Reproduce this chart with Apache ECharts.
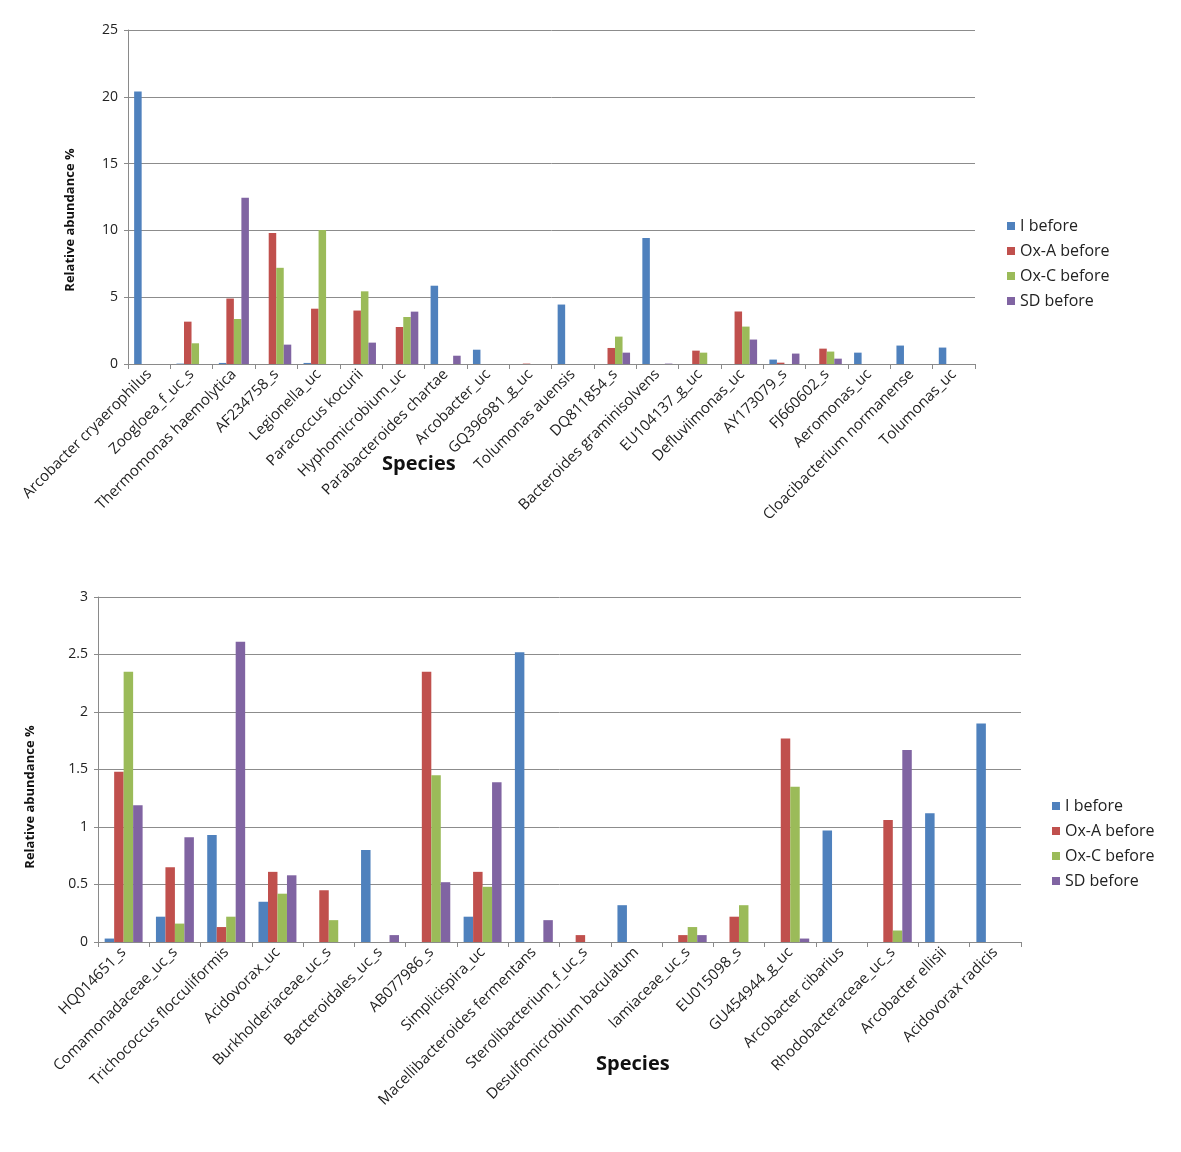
<!DOCTYPE html>
<html><head><meta charset="utf-8">
<script src="https://cdn.jsdelivr.net/npm/echarts@6/dist/echarts.min.js"></script>
<style>html,body{margin:0;padding:0;background:#fff}#c{width:1181px;height:1152px}</style>
</head><body><div id="c"></div>
<script>
const seriesNames = ['I before', 'Ox-A before', 'Ox-C before', 'SD before'];
const colors = ['#4F81BD', '#C0504D', '#9BBB59', '#8064A2'];

const topCategories = ['Arcobacter cryaerophilus','Zoogloea_f_uc_s','Thermomonas haemolytica','AF234758_s','Legionella_uc','Paracoccus kocurii','Hyphomicrobium_uc','Parabacteroides chartae','Arcobacter_uc','GQ396981_g_uc','Tolumonas auensis','DQ811854_s','Bacteroides graminisolvens','EU104137_g_uc','Defluviimonas_uc','AY173079_s','FJ660602_s','Aeromonas_uc','Cloacibacterium normanense','Tolumonas_uc'];
const topI    = [20.4, 0.03, 0.08, 0, 0.08, 0, 0, 5.86, 1.07, 0, 4.45, 0, 9.43, 0, 0, 0.33, 0, 0.85, 1.38, 1.23];
const topOxA  = [0, 3.17, 4.9, 9.8, 4.14, 4.0, 2.77, 0, 0, 0.03, 0, 1.2, 0, 1.0, 3.93, 0.1, 1.15, 0, 0, 0];
const topOxC  = [0, 1.55, 3.37, 7.2, 10.03, 5.44, 3.52, 0, 0, 0, 0, 2.05, 0, 0.85, 2.8, 0, 0.93, 0, 0, 0];
const topSD   = [0, 0, 12.45, 1.45, 0, 1.6, 3.92, 0.62, 0, 0, 0, 0.85, 0.03, 0, 1.83, 0.78, 0.4, 0, 0, 0];
const topTicks = [0, 5, 10, 15, 20, 25];

const botCategories = ['HQ014651_s','Comamonadaceae_uc_s','Trichococcus flocculiformis','Acidovorax_uc','Burkholderiaceae_uc_s','Bacteroidales_uc_s','AB077986_s','Simplicispira_uc','Macellibacteroides fermentans','Sterolibacterium_f_uc_s','Desulfomicrobium baculatum','lamiaceae_uc_s','EU015098_s','GU454944_g_uc','Arcobacter cibarius','Rhodobacteraceae_uc_s','Arcobacter ellisii','Acidovorax radicis'];
const botI    = [0.03, 0.22, 0.93, 0.35, 0, 0.80, 0, 0.22, 2.52, 0, 0.32, 0, 0, 0, 0.97, 0, 1.12, 1.90];
const botOxA  = [1.48, 0.65, 0.13, 0.61, 0.45, 0, 2.35, 0.61, 0, 0.06, 0, 0.06, 0.22, 1.77, 0, 1.06, 0, 0];
const botOxC  = [2.35, 0.16, 0.22, 0.42, 0.19, 0, 1.45, 0.48, 0, 0, 0, 0.13, 0.32, 1.35, 0, 0.10, 0, 0];
const botSD   = [1.19, 0.91, 2.61, 0.58, 0, 0.06, 0.52, 1.39, 0.19, 0, 0, 0.06, 0, 0.03, 0, 1.67, 0, 0];
const botTicks = [0, 0.5, 1, 1.5, 2, 2.5, 3];

const FONT = '"Open Sans", "DejaVu Sans", sans-serif';
const chart = echarts.init(document.getElementById('c'), null, {renderer: 'canvas'});

function xAxisCfg(cats, gridIndex) {
  return {
    type: 'category', data: cats, gridIndex: gridIndex,
    axisLine: {lineStyle: {color: '#8a8a8a', width: 1}},
    axisTick: {show: true, length: 5, lineStyle: {color: '#8a8a8a'}},
    axisLabel: {rotate: 45, interval: 0, color: '#222', fontSize: 15, fontFamily: FONT, margin: 8},
    splitLine: {show: false}
  };
}
function yAxisCfg(ticks, gridIndex) {
  return {
    type: 'value', gridIndex: gridIndex, min: ticks[0], max: ticks[ticks.length - 1],
    interval: ticks[1] - ticks[0],
    axisLine: {show: true, lineStyle: {color: '#8a8a8a'}},
    axisTick: {show: true, length: 4, lineStyle: {color: '#8a8a8a'}},
    axisLabel: {color: '#222', fontSize: 14, fontFamily: FONT, margin: 10},
    splitLine: {show: true, lineStyle: {color: '#8c8c8c', width: 1}}
  };
}
const series = [];
const topData = [topI, topOxA, topOxC, topSD];
const botData = [botI, botOxA, botOxC, botSD];
for (let i = 0; i < 4; i++) {
  series.push({type: 'bar', name: seriesNames[i], xAxisIndex: 0, yAxisIndex: 0, data: topData[i],
    itemStyle: {color: colors[i]}, barGap: '0%', barCategoryGap: '29%', animation: false});
}
for (let i = 0; i < 4; i++) {
  series.push({type: 'bar', name: seriesNames[i], xAxisIndex: 1, yAxisIndex: 1, data: botData[i],
    itemStyle: {color: colors[i]}, barGap: '0%', barCategoryGap: '26%', animation: false});
}
const legendBase = {
  orient: 'vertical', icon: 'rect', itemWidth: 8, itemHeight: 8, itemGap: 9,
  textStyle: {fontSize: 16, fontFamily: FONT, color: '#222'}, data: seriesNames, selectedMode: false
};
chart.setOption({
  backgroundColor: '#fff',
  animation: false,
  grid: [
    {left: 128, top: 30, width: 847, height: 334, containLabel: false},
    {left: 98, top: 597, width: 923, height: 345, containLabel: false}
  ],
  xAxis: [xAxisCfg(topCategories, 0), xAxisCfg(botCategories, 1)],
  yAxis: [yAxisCfg(topTicks, 0), yAxisCfg(botTicks, 1)],
  legend: [
    Object.assign({}, legendBase, {left: 1002, top: 213}),
    Object.assign({}, legendBase, {left: 1047, top: 793})
  ],
  series: series,
  graphic: [
    {type: 'text', left: 382, top: 454, style: {text: 'Species', font: 'bold 20px ' + FONT, fill: '#111'}},
    {type: 'text', left: 596, top: 1054, style: {text: 'Species', font: 'bold 20px ' + FONT, fill: '#111'}},
    {type: 'text', x: 70, y: 220, rotation: Math.PI / 2,
      style: {text: 'Relative abundance %', font: 'bold 13px ' + FONT, fill: '#111', align: 'center', verticalAlign: 'middle'}},
    {type: 'text', x: 30, y: 797, rotation: Math.PI / 2,
      style: {text: 'Relative abundance %', font: 'bold 13px ' + FONT, fill: '#111', align: 'center', verticalAlign: 'middle'}}
  ]
});
</script></body></html>
